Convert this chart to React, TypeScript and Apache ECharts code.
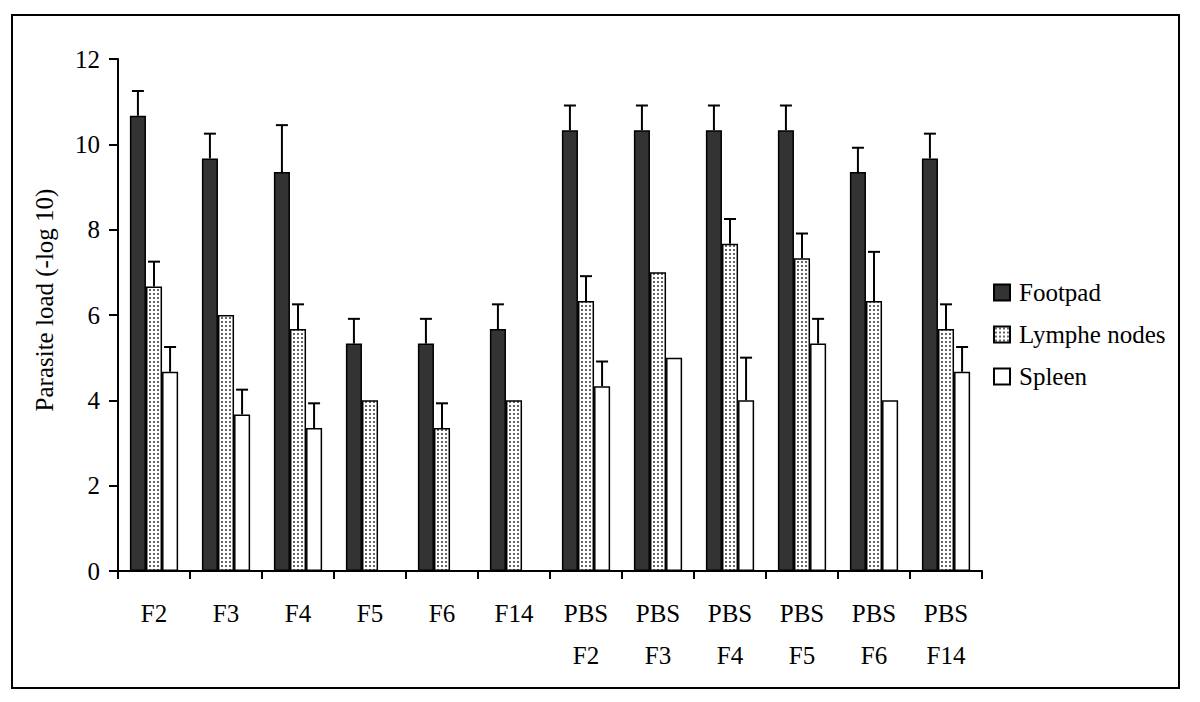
import React, { useEffect, useRef } from "react";
import * as echarts from "echarts";

const categories = ["F2", "F3", "F4", "F5", "F6", "F14", "PBS\nF2", "PBS\nF3", "PBS\nF4", "PBS\nF5", "PBS\nF6", "PBS\nF14"];
const footpad = [10.67, 9.67, 9.35, 5.33, 5.33, 5.67, 10.33, 10.33, 10.33, 10.33, 9.35, 9.67];
const footpadErr = [0.58, 0.58, 1.1, 0.58, 0.58, 0.58, 0.58, 0.58, 0.58, 0.58, 0.57, 0.58];
const lymph = [6.67, 6.0, 5.67, 4.0, 3.35, 4.0, 6.33, 7.0, 7.67, 7.33, 6.33, 5.67];
const lymphErr = [0.58, 0, 0.58, 0, 0.58, 0, 0.58, 0, 0.58, 0.58, 1.15, 0.58];
const spleen = [4.67, 3.67, 3.35, 0, 0, 0, 4.33, 5.0, 4.0, 5.33, 4.0, 4.67];
const spleenErr = [0.58, 0.58, 0.58, 0, 0, 0, 0.58, 0, 1.0, 0.58, 0, 0.58];
const yTicks = { min: 0, max: 12, interval: 2 };
const seriesNames = ["Footpad", "Lymphe nodes", "Spleen"];

const FONT = "Liberation Serif";
const FS = 25;
const GAP = 0.33;

export default function App() {
  const ref = useRef<HTMLDivElement>(null);
  useEffect(() => {
    if (!ref.current) return;
    const chart = echarts.init(ref.current, undefined, { renderer: "svg" });

    const cv = document.createElement("canvas");
    cv.width = 4;
    cv.height = 4;
    const ctx = cv.getContext("2d")!;
    ctx.fillStyle = "#ffffff";
    ctx.fillRect(0, 0, 4, 4);
    ctx.fillStyle = "#666666";
    ctx.fillRect(1, 1, 2, 2);
    const dotted = { image: cv.toDataURL(), repeat: "repeat" };

    const errData: number[][] = [];
    [footpadErr, lymphErr, spleenErr].forEach((errs, g) => {
      const vals = [footpad, lymph, spleen][g];
      errs.forEach((e, i) => {
        if (e > 0) errData.push([i, vals[i], e, g]);
      });
    });

    const barStyle = (color: any) => ({
      color,
      borderColor: "#000",
      borderWidth: 1.5,
    });

    chart.setOption({
      animation: false,
      backgroundColor: "#ffffff",
      textStyle: { fontFamily: FONT },
      grid: { left: 118, top: 59, width: 864, height: 512 },
      legend: {
        orient: "vertical",
        left: 993,
        top: 280,
        padding: 0,
        itemWidth: 16,
        itemHeight: 16,
        itemGap: 17,
        icon: "rect",
        data: seriesNames,
        textStyle: { fontFamily: FONT, fontSize: FS, color: "#000", padding: [0, 0, 0, 4] },
        selectedMode: false,
      },
      xAxis: {
        type: "category",
        data: categories,
        axisLine: { lineStyle: { color: "#000", width: 2 } },
        axisTick: { show: true, length: 8, lineStyle: { color: "#000", width: 2 } },
        axisLabel: {
          fontFamily: FONT,
          fontSize: FS,
          color: "#000",
          lineHeight: 42,
          margin: 21,
          interval: 0,
        },
      },
      yAxis: {
        type: "value",
        min: yTicks.min,
        max: yTicks.max,
        interval: yTicks.interval,
        splitLine: { show: false },
        axisLine: { show: true, lineStyle: { color: "#000", width: 2 } },
        axisTick: { show: true, length: 9, lineStyle: { color: "#000", width: 2 } },
        axisLabel: { fontFamily: FONT, fontSize: FS, color: "#000", margin: 18 },
      },
      graphic: [
        {
          type: "rect",
          shape: { x: 12, y: 15, width: 1167, height: 673 },
          style: { fill: "none", stroke: "#000", lineWidth: 2 },
          silent: true,
        },
        {
          type: "text",
          x: 44,
          y: 300,
          rotation: Math.PI / 2,
          style: {
            text: "Parasite load (-log 10)",
            font: `${FS}px "${FONT}"`,
            fill: "#000",
            align: "center",
            verticalAlign: "middle",
          },
        },
      ],
      series: [
        {
          name: seriesNames[0],
          type: "bar",
          data: footpad,
          barGap: "0%",
          barCategoryGap: `${GAP * 100}%`,
          itemStyle: barStyle("#333333"),
        },
        {
          name: seriesNames[1],
          type: "bar",
          data: lymph,
          barGap: "0%",
          barCategoryGap: `${GAP * 100}%`,
          itemStyle: barStyle(dotted),
        },
        {
          name: seriesNames[2],
          type: "bar",
          data: spleen,
          barGap: "0%",
          barCategoryGap: `${GAP * 100}%`,
          itemStyle: barStyle("#ffffff"),
        },
        {
          type: "custom",
          data: errData,
          encode: { x: 0, y: 1 },
          z: 5,
          silent: true,
          renderItem: (params: any, api: any) => {
            const c = api.value(0);
            const v = api.value(1);
            const e = api.value(2);
            const g = api.value(3);
            const p0 = api.coord([c, v]);
            const p1 = api.coord([c, v + e]);
            const band = api.size([1, 0])[0];
            const barW = (band * (1 - GAP)) / 3;
            const x = p0[0] + (g - 1) * barW;
            const style = { stroke: "#000", lineWidth: 2 };
            return {
              type: "group",
              children: [
                { type: "line", shape: { x1: x, y1: p0[1], x2: x, y2: p1[1] }, style },
                { type: "line", shape: { x1: x - 6, y1: p1[1], x2: x + 6, y2: p1[1] }, style },
              ],
            };
          },
        },
      ],
    });
    return () => chart.dispose();
  }, []);
  return (
    <div
      ref={ref}
      style={{ position: "fixed", left: 0, top: 0, width: 1200, height: 702, background: "#fff" }}
    />
  );
}
